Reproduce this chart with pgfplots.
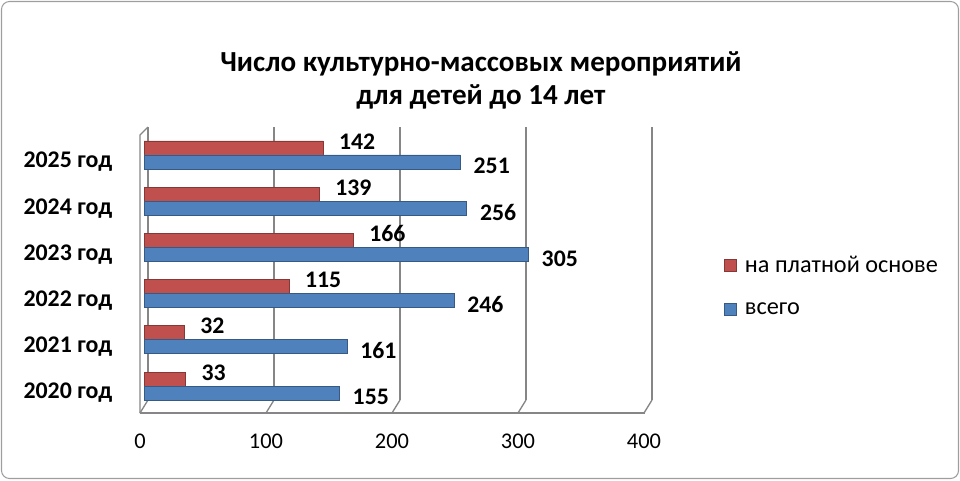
\documentclass[border=0pt]{standalone}
\usepackage{pgfplots}
\pgfplotsset{compat=1.18}
\usepackage{fontspec}
\setmainfont{Carlito}
\definecolor{redbar}{HTML}{C0504D}
\definecolor{bluebar}{HTML}{4F81BD}
\definecolor{gridc}{HTML}{868686}
\begin{document}
\begin{tikzpicture}
\path (0,0) rectangle (720pt,360pt);
\begin{scope}[x=0.75pt,y=-0.75pt,yshift=360pt]
\draw[gridc!80, line width=0.8pt, rounded corners=6pt] (1.5,1.5) rectangle (958.5,478.5);
\node[font=\bfseries\fontsize{21.8}{24}\selectfont] at (481,64) {Число культурно-массовых мероприятий};
\node[font=\bfseries\fontsize{21.8}{24}\selectfont] at (481,97) {для детей до 14 лет};
% floor and left wall
\draw[gridc, line width=1pt] (140,413) -- (645,413);
\foreach \v in {0,100,200,300,400} {
  \draw[gridc, line width=1pt] ({140+1.26*\v},413) -- ({148+1.26*\v},400);
}
\draw[gridc, line width=1pt] (140,413) -- (140,135) -- (148,127);
\end{scope}
\begin{axis}[
  at={(108pt,60pt)}, anchor=south west,
  scale only axis, width=378pt, height=204.75pt,
  xmin=0, xmax=400, ymin=-0.303, ymax=5.606,
  xbar, bar width=10.5pt,
  axis line style={draw=none},
  major tick length=0pt,
  xtick={0,100,200,300,400},
  ytick={0,1,2,3,4,5},
  yticklabels={2020 год,2021 год,2022 год,2023 год,2024 год,2025 год},
  xmajorgrids,
  major grid style={gridc, line width=1pt, xshift=3pt},
  /pgf/number format/assume math mode=true,
  xticklabel style={font=\fontsize{16.8}{18}\selectfont, anchor=center, xshift=-3pt, yshift=-30.75pt},
  yticklabel style={font=\bfseries\fontsize{17.9}{19}\selectfont, anchor=east, xshift=-20.25pt, yshift=-5.25pt},
  legend style={at={(axis description cs:1.1508,0.4158)}, anchor=west, draw=none, fill=none,
    font=\fontsize{18.2}{19}\selectfont, row sep=17pt, inner sep=0pt,
    /tikz/every odd column/.append style={column sep=4pt}},
  legend cell align=left,
  legend image code/.code={\fill[#1] (0pt,-4.5pt) rectangle (9pt,4.5pt);},
]
\addplot[fill=redbar, draw=redbar!70!black, line width=0.5pt, bar shift=5.25pt,
  nodes near coords, nodes near coords style={font=\bfseries\fontsize{17.8}{19}\selectfont, anchor=west, xshift=8.5pt, yshift=4.9pt, text=black}]
  coordinates {(33,0) (32,1) (115,2) (166,3) (139,4) (142,5)};
\addplot[fill=bluebar, draw=bluebar!70!black, line width=0.5pt, bar shift=-5.25pt,
  nodes near coords, nodes near coords style={font=\bfseries\fontsize{17.8}{19}\selectfont, anchor=west, xshift=6.5pt, yshift=-3pt, text=black}]
  coordinates {(155,0) (161,1) (246,2) (305,3) (256,4) (251,5)};
\legend{на платной основе, всего}
\end{axis}
\end{tikzpicture}
\end{document}
